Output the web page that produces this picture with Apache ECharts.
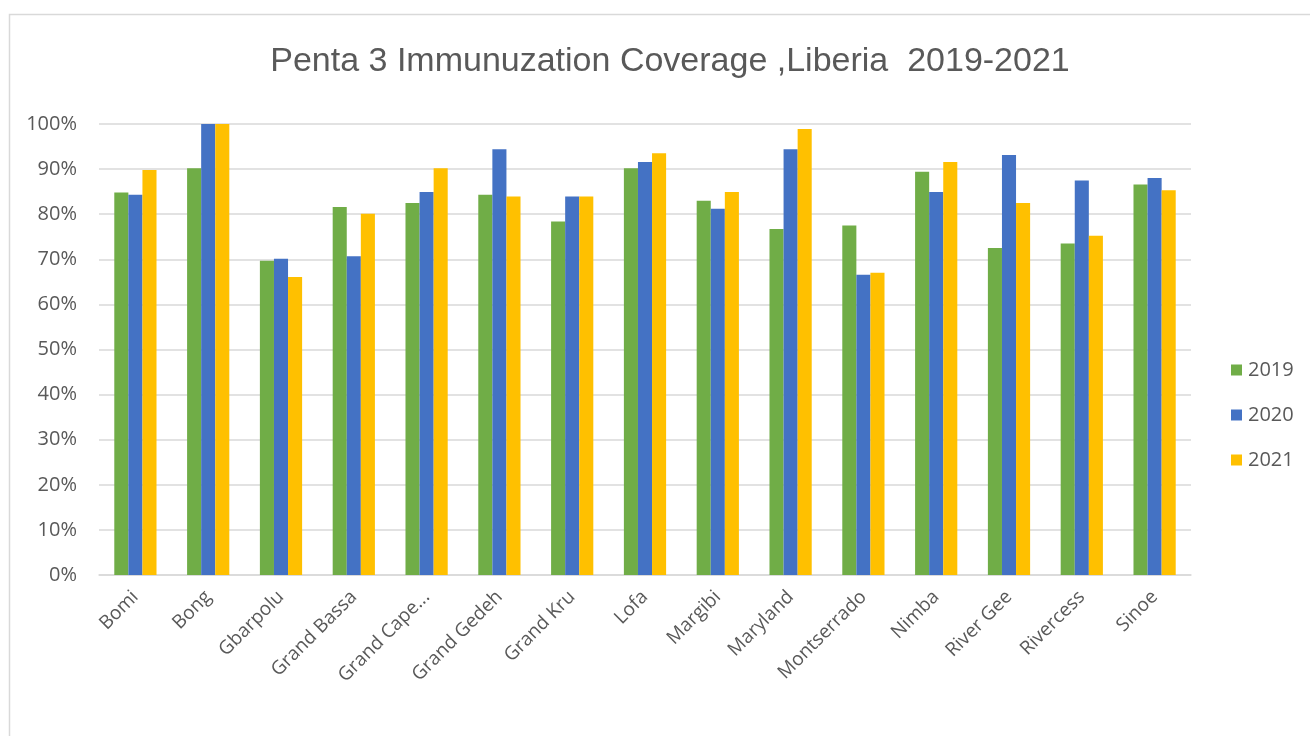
<!DOCTYPE html>
<html>
<head>
<meta charset="utf-8">
<script src="https://cdn.jsdelivr.net/npm/echarts@6/dist/echarts.min.js"></script>
<style>
html,body{margin:0;padding:0;background:#fff;}
#chart{width:1310px;height:736px;}
</style>
</head>
<body>
<div id="chart"></div>
<script>
const titleText = 'Penta 3 Immunuzation Coverage ,Liberia  2019-2021';
const counties = ['Bomi','Bong','Gbarpolu','Grand Bassa','Grand Cape Mount','Grand Gedeh','Grand Kru','Lofa','Margibi','Maryland','Montserrado','Nimba','River Gee','Rivercess','Sinoe'];
const seriesNames = ['2019','2020','2021'];
const values2019 = [84.8, 90.2, 69.7, 81.6, 82.5, 84.3, 78.4, 90.2, 83.0, 76.7, 77.5, 89.4, 72.5, 73.5, 86.6];
const values2020 = [84.3, 100, 70.1, 70.7, 84.9, 94.4, 83.9, 91.6, 81.2, 94.4, 66.6, 84.9, 93.1, 87.5, 88.0];
const values2021 = [89.8, 100, 66.1, 80.1, 90.2, 83.9, 83.9, 93.5, 84.9, 98.9, 67.0, 91.6, 82.5, 75.2, 85.3];
const yTicks = [0,10,20,30,40,50,60,70,80,90,100];

const colors = ['#70AD47','#4472C4','#FFC000'];
const allValues = [values2019, values2020, values2021];
const labelFont = '"Open Sans", "Noto Sans", sans-serif';

const chart = echarts.init(document.getElementById('chart'), null, {renderer:'canvas'});
chart.setOption({
  backgroundColor: '#ffffff',
  animation: false,
  color: colors,
  graphic: [{
    type: 'rect',
    shape: {x: 9.5, y: 14.5, width: 1400, height: 800},
    style: {fill: 'none', stroke: '#d9d9d9', lineWidth: 1.5},
    silent: true, z: -10
  }],
  title: {
    text: titleText,
    left: 665, top: 40, textAlign: 'center',
    textStyle: {fontFamily: '"Liberation Sans Narrow", "Liberation Sans", sans-serif', fontWeight: 'normal', fontSize: 34, color: '#595959'}
  },
  legend: {
    orient: 'vertical',
    left: 1226, top: 355,
    itemWidth: 11, itemHeight: 11, itemGap: 25,
    icon: 'rect',
    data: seriesNames,
    textStyle: {fontFamily: labelFont, fontSize: 20, color: '#595959', padding: [0,0,0,1]}
  },
  grid: {left: 99, right: 119, top: 124, bottom: 161, containLabel: false},
  xAxis: {
    type: 'category',
    data: counties,
    axisLine: {lineStyle: {color: '#d9d9d9', width: 1.5}},
    axisTick: {show: false},
    axisLabel: {
      rotate: 45, interval: 0, margin: 19,
      fontFamily: labelFont, fontSize: 19, color: '#595959',
      formatter: v => v.length > 12 ? v.slice(0, 10) + '...' : v
    }
  },
  yAxis: {
    type: 'value',
    min: yTicks[0], max: yTicks[yTicks.length-1], interval: 10,
    axisLine: {show: false},
    axisTick: {show: false},
    splitLine: {lineStyle: {color: '#d9d9d9', width: 1.5}},
    axisLabel: {margin: 22, fontFamily: labelFont, fontSize: 20, color: '#595959', formatter: v => v + '%'}
  },
  series: seriesNames.map((name, i) => ({
    name: name,
    type: 'bar',
    data: allValues[i],
    barGap: '0%',
    barCategoryGap: '42%',
    itemStyle: {color: colors[i]}
  }))
});
</script>
</body>
</html>
